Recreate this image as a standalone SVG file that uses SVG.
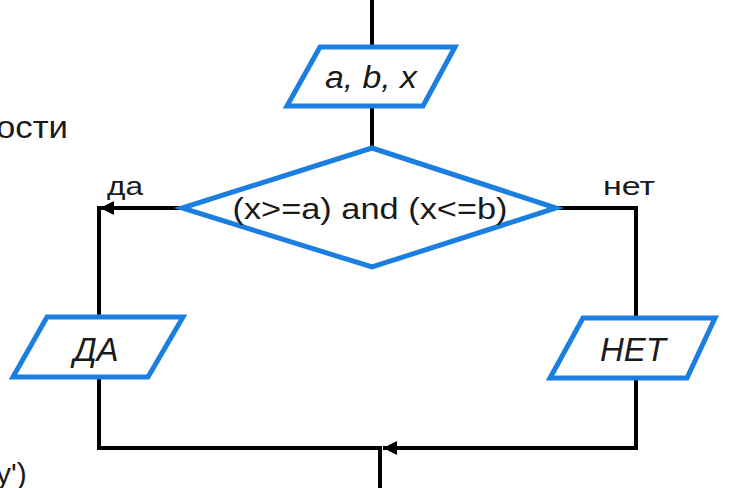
<svg xmlns="http://www.w3.org/2000/svg" width="729" height="488" viewBox="0 0 729 488">
<defs>
<style>
.shape{fill:#fff;stroke:#1C7FE0;stroke-width:5;stroke-linejoin:miter}
.line{fill:none;stroke:#000;stroke-width:4}
.t{font-family:"Liberation Sans",Arial,sans-serif;fill:#1a1a1a}
.it{font-style:italic}
</style>
<marker id="arr" viewBox="0 0 10 10" refX="10" refY="5" markerWidth="4" markerHeight="3.5" markerUnits="strokeWidth" orient="auto">
<path d="M0,0 L10,5 L0,10 z" fill="#000"/>
</marker>
</defs>
<rect width="729" height="488" fill="#fff"/>
<text class="t" x="-4" y="138" font-size="31" textLength="72" lengthAdjust="spacingAndGlyphs">ости</text>
<text class="t" x="-4" y="484" font-size="30">y')</text>
<g id="connectors">
<line class="line" x1="372" y1="0" x2="372" y2="47"/>
<line class="line" x1="372" y1="106" x2="372" y2="148"/>
<path class="line" d="M182,208 L100,208" marker-end="url(#arr)"/>
<path class="line" d="M99,206 L99,318"/>
<path class="line" d="M556,208 L636,208 L636,318"/>
<path class="line" d="M99,377 L99,448 L380,448"/>
<path class="line" d="M636,378 L636,448 L383,448" marker-end="url(#arr)"/>
<line class="line" x1="380" y1="446" x2="380" y2="488"/>
</g>
<g id="input">
<polygon class="shape" points="320,47 455,47 423,106 287,106"/>
<text class="t it" x="371" y="88" font-size="31" text-anchor="middle" textLength="92" lengthAdjust="spacingAndGlyphs">a, b, x</text>
</g>
<g id="condition">
<polygon class="shape" points="372,148 556,208 372,267 182,208"/>
<text class="t" x="370" y="219" font-size="30" text-anchor="middle" textLength="275" lengthAdjust="spacingAndGlyphs">(x&gt;=a) and (x&lt;=b)</text>
</g>
<text class="t" x="107" y="195" font-size="25" textLength="36" lengthAdjust="spacingAndGlyphs">да</text>
<text class="t" x="603" y="195" font-size="25" textLength="52" lengthAdjust="spacingAndGlyphs">нет</text>
<g id="yes">
<polygon class="shape" points="47,317 183,317 148,377 13,377"/>
<text class="t it" x="96" y="361" font-size="33" text-anchor="middle">ДА</text>
</g>
<g id="no">
<polygon class="shape" points="583,318 715,318 687,378 550,378"/>
<text class="t it" x="633" y="361" font-size="33" text-anchor="middle">НЕТ</text>
</g>
</svg>
